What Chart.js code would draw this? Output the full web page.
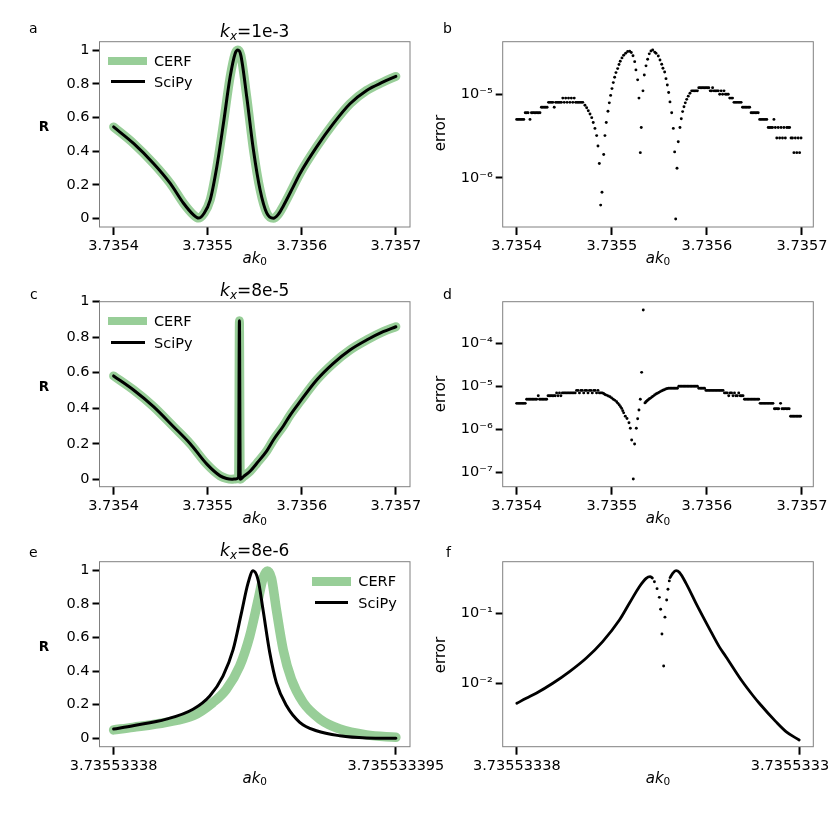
<!DOCTYPE html>
<html><head><meta charset="utf-8">
<script src="https://cdn.jsdelivr.net/npm/chart.js@4.4.1/dist/chart.umd.min.js"></script>
<style>
html,body{margin:0;padding:0;background:#fff;overflow:hidden;}
#wrap{position:relative;width:830px;height:830px;overflow:hidden;background:#fff;}
#charts canvas{position:absolute;}
.t{position:absolute;font-family:'DejaVu Sans',sans-serif;color:#000;white-space:nowrap;line-height:1;}
.sub{font-size:0.7em;position:relative;top:0.25em;}
.ttl{font-size:17px;transform:translateX(-50%);}
.xl{font-size:15px;transform:translateX(-50%);}
.rl{font-size:13.5px;font-weight:bold;transform:translate(-50%,-50%);}
.el{font-size:15px;transform:translate(-50%,-50%) rotate(-90deg);}
.lt{font-size:14px;}
.lg{font-size:14.5px;}
.sw{position:absolute;}
</style>
</head><body>
<div id="wrap">
<div id="charts"></div>
<div class="t lt" style="left:29px;top:21.2px">a</div>
<div class="t lt" style="left:443px;top:21.2px">b</div>
<div class="t lt" style="left:30px;top:286.7px">c</div>
<div class="t lt" style="left:443px;top:287.2px">d</div>
<div class="t lt" style="left:29px;top:545.2px">e</div>
<div class="t lt" style="left:446px;top:545.2px">f</div>

<div class="t ttl" style="left:254.75px;top:22.9px"><i>k</i><span class="sub"><i>x</i></span>=1e-3</div>
<div class="t ttl" style="left:254.75px;top:281.6px"><i>k</i><span class="sub"><i>x</i></span>=8e-5</div>
<div class="t ttl" style="left:254.75px;top:542.3px"><i>k</i><span class="sub"><i>x</i></span>=8e-6</div>

<div class="t xl" style="left:254.75px;top:250.8px"><i>ak</i><span class="sub">0</span></div>
<div class="t xl" style="left:658px;top:250.8px"><i>ak</i><span class="sub">0</span></div>
<div class="t xl" style="left:254.75px;top:510.5px"><i>ak</i><span class="sub">0</span></div>
<div class="t xl" style="left:658px;top:510.5px"><i>ak</i><span class="sub">0</span></div>
<div class="t xl" style="left:254.75px;top:770.5px"><i>ak</i><span class="sub">0</span></div>
<div class="t xl" style="left:658px;top:770.5px"><i>ak</i><span class="sub">0</span></div>

<div class="t rl" style="left:44px;top:127px">R</div>
<div class="t rl" style="left:44px;top:387.2px">R</div>
<div class="t rl" style="left:44px;top:647px">R</div>
<div class="t el" style="left:440px;top:133px">error</div>
<div class="t el" style="left:440px;top:394px">error</div>
<div class="t el" style="left:440px;top:655px">error</div>

<div class="sw" style="left:108.3px;top:56.5px;width:38.4px;height:8.6px;background:rgb(152,206,152)"></div>
<div class="t lg" style="left:154px;top:53.7px">CERF</div>
<div class="sw" style="left:110.5px;top:79.9px;width:34px;height:3.2px;background:#000"></div>
<div class="t lg" style="left:154px;top:75px">SciPy</div>

<div class="sw" style="left:108.3px;top:316.5px;width:38.4px;height:8.6px;background:rgb(152,206,152)"></div>
<div class="t lg" style="left:154px;top:314.4px">CERF</div>
<div class="sw" style="left:110.5px;top:341.1px;width:34px;height:3.2px;background:#000"></div>
<div class="t lg" style="left:154px;top:336px">SciPy</div>

<div class="sw" style="left:311.7px;top:577px;width:39px;height:8.6px;background:rgb(152,206,152)"></div>
<div class="t lg" style="left:358.3px;top:574.4px">CERF</div>
<div class="sw" style="left:315px;top:601.1px;width:33.3px;height:3.2px;background:#000"></div>
<div class="t lg" style="left:358.3px;top:596px">SciPy</div>
</div>
<script>
// ---------------- data ----------------
// panel a (k_x = 1e-3)
const aAk0 = [3.7354, 3.7354212, 3.7354424, 3.7354602, 3.7354743, 3.7354849, 3.7354902, 3.735496, 3.7355026, 3.7355097, 3.7355167, 3.7355238, 3.7355291, 3.735532, 3.7355352, 3.7355415, 3.7355486, 3.7355557, 3.7355628, 3.7355698, 3.735575, 3.7355804, 3.735591, 3.7355981, 3.7356158, 3.7356335, 3.7356512, 3.7356689, 3.7356866, 3.7357];
const aCERF = [0.544, 0.446, 0.327, 0.209, 0.091, 0.022, 0.003, 0.03, 0.11, 0.308, 0.564, 0.84, 0.979, 1.0, 0.969, 0.722, 0.407, 0.17, 0.032, 0.002, 0.025, 0.075, 0.19, 0.268, 0.426, 0.564, 0.682, 0.761, 0.811, 0.844];
const aSciPy = [0.544, 0.446, 0.327, 0.209, 0.091, 0.022, 0.003, 0.03, 0.11, 0.308, 0.564, 0.84, 0.979, 1.0, 0.969, 0.722, 0.407, 0.17, 0.032, 0.002, 0.025, 0.075, 0.19, 0.268, 0.426, 0.564, 0.682, 0.761, 0.811, 0.844];

// panel c (k_x = 8e-5)
const cAk0 = [3.7354, 3.7354212, 3.7354424, 3.7354637, 3.7354814, 3.7354991, 3.7355132, 3.73552, 3.7355256, 3.73553, 3.7355328, 3.7355337, 3.7355346, 3.735538, 3.735545, 3.7355522, 3.7355628, 3.7355698, 3.7355804, 3.7355875, 3.7355981, 3.7356158, 3.7356335, 3.7356512, 3.7356689, 3.7356865, 3.7357];
const cCERF = [0.582, 0.503, 0.409, 0.296, 0.2, 0.085, 0.019, 0.004, 0.0, 0.002, 0.012, 0.893, 0.0, 0.015, 0.045, 0.09, 0.16, 0.221, 0.30, 0.36, 0.437, 0.559, 0.653, 0.728, 0.784, 0.831, 0.859];
const cSciPy = [0.582, 0.503, 0.409, 0.296, 0.2, 0.085, 0.019, 0.004, 0.0, 0.002, 0.012, 0.893, 0.0, 0.015, 0.045, 0.09, 0.16, 0.221, 0.30, 0.36, 0.437, 0.559, 0.653, 0.728, 0.784, 0.831, 0.859];

// panel e (k_x = 8e-6)
const eAk0SciPy = [3.73553338, 3.73553338103, 3.7355333828, 3.73553338422, 3.73553338511, 3.73553338581, 3.73553338635, 3.73553338679, 3.73553338714, 3.73553338741, 3.73553338768, 3.73553338794, 3.7355333883, 3.73553338865, 3.73553338919, 3.73553338989, 3.73553339078, 3.73553339202, 3.73553339344, 3.735533395];
const eSciPy = [0.055, 0.075, 0.114, 0.173, 0.252, 0.37, 0.527, 0.744, 0.921, 0.996, 0.941, 0.764, 0.508, 0.331, 0.193, 0.095, 0.045, 0.015, 0.002, 0.0];
const eAk0CERF = [3.73553338, 3.73553338103, 3.7355333828, 3.73553338422, 3.73553338528, 3.73553338599, 3.7355333867, 3.73553338723, 3.73553338768, 3.73553338794, 3.73553338817, 3.73553338839, 3.73553338865, 3.73553338901, 3.73553338945, 3.73553339007, 3.73553339096, 3.73553339202, 3.73553339344, 3.735533395];
const eCERF = [0.05, 0.065, 0.095, 0.134, 0.213, 0.291, 0.429, 0.606, 0.823, 0.951, 0.995, 0.951, 0.764, 0.527, 0.35, 0.213, 0.114, 0.055, 0.02, 0.006];

// panel b (error, k_x = 1e-3)
const bAk0 = [3.7354, 3.7354015, 3.735403, 3.7354045, 3.735406, 3.7354075, 3.735409, 3.7354105, 3.735412, 3.735414, 3.7354155, 3.735417, 3.7354185, 3.73542, 3.7354215, 3.735423, 3.7354245, 3.735426, 3.7354275, 3.735429, 3.7354305, 3.735432, 3.7354335, 3.735435, 3.7354365, 3.735438, 3.7354395, 3.735441, 3.7354425, 3.735444, 3.7354455, 3.735447, 3.7354485, 3.73545, 3.7354515, 3.735453, 3.7354545, 3.735456, 3.7354575, 3.735459, 3.7354605, 3.735462, 3.7354635, 3.735465, 3.7354665, 3.735468, 3.7354695,
  3.7354718, 3.7354736, 3.7354753, 3.7354771, 3.7354789, 3.7354805, 3.7354823, 3.7354841, 3.7354855, 3.7354869, 3.7354883, 3.7354897, 3.7354915, 3.7354928, 3.7354942, 3.735496, 3.7354974, 3.7354988, 3.7355002, 3.7355016, 3.735503, 3.7355044, 3.7355062, 3.7355076, 3.7355089, 3.7355107, 3.7355125, 3.7355146, 3.7355167, 3.7355188, 3.7355205, 3.7355223, 3.7355241, 3.7355254, 3.7355272, 3.7355286, 3.73553, 3.735531, 3.7355328, 3.7355342, 3.735536, 3.7355377, 3.7355394, 3.7355412, 3.735543, 3.7355451, 3.7355465, 3.7355489, 3.7355507, 3.7355525, 3.7355538, 3.7355556, 3.735557, 3.7355584, 3.7355598, 3.7355612, 3.735563, 3.7355647, 3.7355661, 3.7355672, 3.7355686, 3.7355699, 3.7355717, 3.7355731, 3.7355745, 3.7355759, 3.7355773, 3.7355788, 3.7355804, 3.7355822,
  3.735584, 3.7355855, 3.735587, 3.7355885, 3.73559, 3.7355915, 3.735593, 3.7355945, 3.735596, 3.7355975, 3.735599, 3.7356005, 3.735602, 3.7356035, 3.735605, 3.735606, 3.7356075, 3.735609, 3.7356105, 3.735612, 3.7356135, 3.735615, 3.7356165, 3.735618, 3.7356195, 3.735621, 3.7356225, 3.735624, 3.7356255, 3.735627, 3.7356285, 3.73563, 3.7356315, 3.735633, 3.7356345, 3.735636, 3.7356375, 3.735639, 3.7356405, 3.735642, 3.7356435, 3.735645, 3.7356465, 3.735648, 3.7356495, 3.735651, 3.7356525, 3.735654, 3.7356555, 3.735657, 3.7356585, 3.73566, 3.7356615, 3.735663, 3.7356645, 3.735666, 3.7356675, 3.735669, 3.7356705, 3.735672, 3.7356735, 3.735675, 3.7356765, 3.735678, 3.7356795, 3.735681, 3.7356825, 3.735684, 3.7356855, 3.735687, 3.7356885, 3.73569, 3.7356915, 3.735693, 3.7356945, 3.735696, 3.7356975, 3.735699];
const bError = [5e-6, 5e-6, 5e-6, 5e-6, 5e-6, 5e-6, 6e-6, 6e-6, 6e-6, 5e-6, 6e-6, 6e-6, 6e-6, 6e-6, 6e-6, 6e-6, 6e-6, 7e-6, 7e-6, 7e-6, 7e-6, 7e-6, 8e-6, 8e-6, 8e-6, 8e-6, 7e-6, 8e-6, 8e-6, 8e-6, 8e-6, 8e-6, 9e-6, 8e-6, 9e-6, 8e-6, 9e-6, 8e-6, 9e-6, 8e-6, 9e-6, 8e-6, 8e-6, 8e-6, 8e-6, 8e-6, 8e-6,
  7.4e-6, 6.9e-6, 6.35e-6, 5.8e-6, 5.25e-6, 4.6e-6, 3.9e-6, 3.2e-6, 2.4e-6, 1.48e-6, 4.7e-7, 6.7e-7, 1.9e-6, 3.2e-6, 4.6e-6, 6.25e-6, 7.9e-6, 9.7e-6, 1.17e-5, 1.38e-5, 1.6e-5, 1.82e-5, 2.03e-5, 2.27e-5, 2.49e-5, 2.73e-5, 2.94e-5, 3.1e-5, 3.25e-5, 3.28e-5, 3.17e-5, 2.9e-5, 2.46e-5, 1.96e-5, 1.49e-5, 9e-6, 2e-6, 4e-6, 1.1e-5, 1.7e-5, 2.19e-5, 2.63e-5, 3.05e-5, 3.3e-5, 3.4e-5, 3.2e-5, 3.1e-5, 2.88e-5, 2.58e-5, 2.29e-5, 2.05e-5, 1.85e-5, 1.54e-5, 1.29e-5, 1.05e-5, 8.1e-6, 6e-6, 3.9e-6, 2.04e-6, 3.2e-7, 1.3e-6, 2.7e-6, 4e-6, 5.1e-6, 6.2e-6, 7.1e-6, 7.9e-6, 8.7e-6, 9.5e-6, 1.03e-5,
  1.1e-5, 1.1e-5, 1.1e-5, 1.1e-5, 1.1e-5, 1.2e-5, 1.2e-5, 1.2e-5, 1.2e-5, 1.2e-5, 1.2e-5, 1.2e-5, 1.2e-5, 1.1e-5, 1.1e-5, 1.2e-5, 1.1e-5, 1.1e-5, 1.1e-5, 1.1e-5, 1e-5, 1.1e-5, 1e-5, 1.1e-5, 1e-5, 1e-5, 1e-5, 9e-6, 9e-6, 9e-6, 8e-6, 8e-6, 8e-6, 8e-6, 8e-6, 8e-6, 7e-6, 7e-6, 7e-6, 7e-6, 7e-6, 7e-6, 6e-6, 6e-6, 6e-6, 6e-6, 6e-6, 6e-6, 5e-6, 5e-6, 5e-6, 5e-6, 5e-6, 5e-6, 4e-6, 4e-6, 4e-6, 4e-6, 5e-6, 4e-6, 3e-6, 4e-6, 3e-6, 4e-6, 3e-6, 4e-6, 3e-6, 4e-6, 4e-6, 4e-6, 3e-6, 3e-6, 2e-6, 3e-6, 2e-6, 3e-6, 2e-6, 3e-6];

// panel d (error, k_x = 8e-5)
const dAk0 = [3.7354, 3.7354015, 3.735403, 3.7354045, 3.735406, 3.7354075, 3.735409, 3.7354105, 3.735412, 3.7354135, 3.735415, 3.7354165, 3.735418, 3.7354195, 3.735421, 3.7354227, 3.735424, 3.7354255, 3.735427, 3.7354285, 3.73543, 3.7354315, 3.735433, 3.7354345, 3.735436, 3.7354375, 3.735439, 3.7354405, 3.735442, 3.7354435, 3.735445, 3.7354465, 3.735448, 3.7354495, 3.735451, 3.7354525, 3.735454, 3.7354555, 3.735457, 3.7354585, 3.73546, 3.7354615, 3.735463, 3.7354645, 3.735466, 3.7354675, 3.735469, 3.7354705, 3.735472, 3.7354735, 3.735475, 3.7354765, 3.735478, 3.7354795, 3.735481, 3.7354825, 3.735484, 3.7354855, 3.735487, 3.7354885, 3.73549,
  3.7354914, 3.7354928, 3.7354945, 3.7354963, 3.7354981, 3.7354998, 3.7355016, 3.7355033, 3.7355051, 3.7355065, 3.7355079, 3.7355092, 3.7355104, 3.7355115, 3.7355125, 3.7355142, 3.735516, 3.7355181, 3.7355195, 3.7355209, 3.7355226, 3.735524, 3.7355258, 3.7355272, 3.7355286, 3.73553, 3.7355314, 3.7355331, 3.7355349, 3.7355358, 3.7355366, 3.7355375, 3.7355384, 3.7355396, 3.7355408, 3.7355422, 3.7355436, 3.735545, 3.7355465, 3.735548, 3.7355496, 3.735551, 3.7355524, 3.7355538, 3.7355552, 3.7355568, 3.7355584,
  3.73556, 3.7355615, 3.735563, 3.7355645, 3.735566, 3.7355675, 3.735569, 3.7355705, 3.735572, 3.7355735, 3.735575, 3.7355765, 3.735578, 3.7355795, 3.735581, 3.7355825, 3.735584, 3.7355855, 3.735587, 3.7355885, 3.73559, 3.7355915, 3.735593, 3.7355945, 3.735596, 3.7355975, 3.735599, 3.7356005, 3.735602, 3.7356035, 3.735605, 3.7356065, 3.735608, 3.7356095, 3.735611, 3.7356125, 3.735614, 3.7356155, 3.735617, 3.7356185, 3.73562, 3.7356215, 3.735623, 3.7356245, 3.735626, 3.7356275, 3.735629, 3.7356305, 3.735632, 3.7356335, 3.735635, 3.7356365, 3.735638, 3.7356395, 3.735641, 3.7356425, 3.735644, 3.7356455, 3.735647, 3.7356485, 3.73565, 3.7356515, 3.735653, 3.7356545, 3.735656, 3.7356575, 3.735659, 3.7356605, 3.735662, 3.7356635, 3.735665, 3.7356665, 3.735668, 3.7356695, 3.735671, 3.7356725, 3.735674, 3.7356755, 3.7356775, 3.735679, 3.7356805, 3.735682, 3.7356835, 3.735685, 3.7356865, 3.735688, 3.7356895, 3.735691, 3.7356925, 3.735694, 3.7356955, 3.735697, 3.7356985];
const dError = [4e-6, 4e-6, 4e-6, 4e-6, 4e-6, 4e-6, 4e-6, 5e-6, 5e-6, 5e-6, 5e-6, 5e-6, 5e-6, 5e-6, 5e-6, 6e-6, 5e-6, 5e-6, 5e-6, 5e-6, 5e-6, 5e-6, 6e-6, 6e-6, 6e-6, 6e-6, 6e-6, 6e-6, 7e-6, 6e-6, 7e-6, 6e-6, 7e-6, 7e-6, 7e-6, 7e-6, 7e-6, 7e-6, 7e-6, 7e-6, 7e-6, 7e-6, 8e-6, 8e-6, 7e-6, 8e-6, 8e-6, 7e-6, 8e-6, 8e-6, 7e-6, 8e-6, 8e-6, 7e-6, 8e-6, 8e-6, 7e-6, 8e-6, 7e-6, 7e-6, 7e-6,
  6.8e-6, 6.45e-6, 6.2e-6, 5.95e-6, 5.7e-6, 5.35e-6, 5e-6, 4.7e-6, 4.36e-6, 4e-6, 3.65e-6, 3.35e-6, 3.05e-6, 2.7e-6, 2.4e-6, 2e-6, 1.77e-6, 1.41e-6, 1.05e-6, 5.6e-7, 6.9e-8, 4.5e-7, 1.05e-6, 1.75e-6, 2.79e-6, 5e-6, 2.11e-5, 5.97e-4, 4.1e-6, 4.3e-6, 4.5e-6, 4.7e-6, 4.85e-6, 5.1e-6, 5.3e-6, 5.6e-6, 5.9e-6, 6.25e-6, 6.6e-6, 6.9e-6, 7.2e-6, 7.5e-6, 7.8e-6, 8.05e-6, 8.3e-6, 8.6e-6, 8.9e-6,
  9e-6, 9e-6, 9e-6, 9e-6, 9e-6, 9e-6, 9e-6, 1e-5, 1e-5, 1e-5, 1e-5, 1e-5, 1e-5, 1e-5, 1e-5, 1e-5, 1e-5, 1e-5, 1e-5, 1e-5, 1e-5, 9e-6, 9e-6, 9e-6, 9e-6, 9e-6, 8e-6, 8e-6, 8e-6, 8e-6, 8e-6, 8e-6, 8e-6, 8e-6, 8e-6, 8e-6, 8e-6, 8e-6, 8e-6, 7e-6, 7e-6, 7e-6, 6e-6, 7e-6, 7e-6, 6e-6, 7e-6, 6e-6, 6e-6, 7e-6, 6e-6, 6e-6, 6e-6, 5e-6, 5e-6, 5e-6, 5e-6, 5e-6, 5e-6, 5e-6, 5e-6, 5e-6, 5e-6, 5e-6, 4e-6, 4e-6, 4e-6, 4e-6, 4e-6, 4e-6, 4e-6, 4e-6, 4e-6, 4e-6, 3e-6, 3e-6, 3e-6, 3e-6, 4e-6, 3e-6, 3e-6, 3e-6, 3e-6, 3e-6, 3e-6, 2e-6, 2e-6, 2e-6, 2e-6, 2e-6, 2e-6, 2e-6, 2e-6];

// panel f (error, k_x = 8e-6)
const fAk0Left = [3.73553338, 3.7355333805, 3.73553338103, 3.73553338191, 3.7355333828, 3.73553338368, 3.73553338456, 3.73553338545, 3.73553338598, 3.73553338651, 3.73553338687, 3.73553338708, 3.7355333872];
const fErrorLeft = [5.18e-3, 6.1e-3, 7.2e-3, 1.0e-2, 1.47e-2, 2.28e-2, 3.94e-2, 8.0e-2, 1.39e-1, 2.4e-1, 3.16e-1, 3.34e-1, 3.2e-1];
const fAk0Dip = [3.73553338731, 3.73553338745, 3.73553338757, 3.73553338764, 3.73553338771, 3.7355333878, 3.73553338787, 3.73553338796, 3.73553338803, 3.7355333881];
const fErrorDip = [0.282, 0.225, 0.169, 0.114, 0.0506, 0.0177, 0.088, 0.155, 0.22, 0.29];
const fAk0Right = [3.73553338814, 3.73553338828, 3.73553338846, 3.73553338863, 3.73553338899, 3.73553338952, 3.73553339022, 3.73553339075, 3.73553339111, 3.73553339199, 3.73553339252, 3.73553339288, 3.73553339376, 3.7355333943, 3.735533395];
const fErrorRight = [0.323, 0.373, 0.406, 0.385, 0.268, 0.139, 0.061, 0.0334, 0.024, 0.0105, 6.8e-3, 5.18e-3, 2.83e-3, 2.04e-3, 1.55e-3];

// tick values / labels
const xTicksWide = [3.7354, 3.7355, 3.7356, 3.7357];
const xLabelsWide = ['3.7354', '3.7355', '3.7356', '3.7357'];
const xTicksNarrow = [3.73553338, 3.735533395];
const xLabelsNarrow = ['3.73553338', '3.735533395'];
const yTicksR = [0, 0.2, 0.4, 0.6, 0.8, 1];
const yLabelsR = ['0', '0.2', '0.4', '0.6', '0.8', '1'];
const yTicksB = [1e-6, 1e-5];
const yLabelsB = ['10\u207B\u2076', '10\u207B\u2075'];
const yTicksD = [1e-7, 1e-6, 1e-5, 1e-4];
const yLabelsD = ['10\u207B\u2077', '10\u207B\u2076', '10\u207B\u2075', '10\u207B\u2074'];
const yTicksF = [1e-2, 1e-1];
const yLabelsF = ['10\u207B\u00B2', '10\u207B\u00B9'];

// ---------------- drawing ----------------
const FONT = "'DejaVu Sans', sans-serif";
const TICK_FONT = {family: FONT, size: 14.5};
const GREEN = 'rgb(152,206,152)';
const zip = (xs, ys) => xs.map((x, i) => ({x: x, y: ys[i]}));

const frame = {id: 'frame', afterDraw(ch) {
  const a = ch.chartArea, c = ch.ctx;
  c.save(); c.strokeStyle = '#808080'; c.lineWidth = 1;
  c.strokeRect(a.left, a.top, a.right - a.left, a.bottom - a.top);
  c.restore();
}};

function xAxis(min, max, vals, labels) {
  return {type: 'linear', min: min, max: max, bounds: 'data',
    afterBuildTicks: s => { s.ticks = vals.map(v => ({value: v})); },
    afterFit: s => { s.height = 30; s.paddingLeft = 0; s.paddingRight = 0; },
    ticks: {autoSkip: false, maxRotation: 0, minRotation: 0, padding: 3, color: '#000', font: TICK_FONT,
      callback: (v, i) => labels[i]},
    grid: {drawOnChartArea: false, drawTicks: true, tickLength: 8, tickWidth: 2, tickColor: '#000'},
    border: {display: false}};
}
function yAxis(type, min, max, vals, labels) {
  return {type: type, min: min, max: max, bounds: 'data',
    afterBuildTicks: s => { s.ticks = vals.map(v => ({value: v})); },
    afterFit: s => { s.width = 60; s.paddingTop = 0; s.paddingBottom = 0; },
    ticks: {autoSkip: false, padding: 3, color: '#000', font: TICK_FONT, callback: (v, i) => labels[i]},
    grid: {drawOnChartArea: false, drawTicks: true, tickLength: 7, tickWidth: 2, tickColor: '#000'},
    border: {display: false}};
}
const lineDS = (xs, ys, color, width) => ({data: zip(xs, ys), showLine: true, borderColor: color, backgroundColor: color,
  borderWidth: width, pointRadius: 0, pointHoverRadius: 0, cubicInterpolationMode: 'monotone',
  borderCapStyle: 'round', borderJoinStyle: 'round', fill: false});
const dotDS = (xs, ys) => ({data: zip(xs, ys), showLine: false, pointRadius: 1.45, pointHoverRadius: 1.45,
  pointBorderWidth: 0, backgroundColor: '#000', borderColor: '#000'});

function panel(x, y, w, h, pad, datasets, xs, ys) {
  const cv = document.createElement('canvas');
  cv.width = w; cv.height = h;
  cv.style.left = x + 'px'; cv.style.top = y + 'px';
  cv.style.width = w + 'px'; cv.style.height = h + 'px';
  document.getElementById('charts').appendChild(cv);
  return new Chart(cv, {type: 'scatter', data: {datasets: datasets},
    options: {responsive: false, animation: false, events: [], layout: {padding: pad},
      plugins: {legend: {display: false}, tooltip: {enabled: false}},
      scales: {x: xs, y: ys}},
    plugins: [frame]});
}

const X_WIDE_L = [3.735385, 3.735715];
const X_WIDE_R = [3.7353853, 3.7357119];
const X_NARROW = [3.73553337925, 3.73553339575];
const padL1 = {left: 39.5, top: 41.7, right: 50, bottom: 13};
const padL2 = {left: 39.5, top: 31.7, right: 50, bottom: 23.3};
const padR1 = {left: 22.7, top: 41.7, right: 36.7, bottom: 13};
const padR2 = {left: 22.7, top: 31.7, right: 36.7, bottom: 23.3};

// a
panel(0, 0, 460, 270, padL1,
  [lineDS(aAk0, aSciPy, '#000', 3), lineDS(aAk0, aCERF, GREEN, 9)],
  xAxis(X_WIDE_L[0], X_WIDE_L[1], xTicksWide, xLabelsWide),
  yAxis('linear', -0.05, 1.05, yTicksR, yLabelsR));
// c
panel(0, 270, 460, 270, padL2,
  [lineDS(cAk0, cSciPy, '#000', 3), lineDS(cAk0, cCERF, GREEN, 9)],
  xAxis(X_WIDE_L[0], X_WIDE_L[1], xTicksWide, xLabelsWide),
  yAxis('linear', -0.042, 1.0, yTicksR, yLabelsR));
// e
panel(0, 530, 460, 270, padL2,
  [lineDS(eAk0SciPy, eSciPy, '#000', 3), lineDS(eAk0CERF, eCERF, GREEN, 9.5)],
  xAxis(X_NARROW[0], X_NARROW[1], xTicksNarrow, xLabelsNarrow),
  yAxis('linear', -0.05, 1.05, yTicksR, yLabelsR));
// b
panel(420, 0, 430, 270, padR1,
  [dotDS(bAk0, bError)],
  xAxis(X_WIDE_R[0], X_WIDE_R[1], xTicksWide, xLabelsWide),
  yAxis('logarithmic', Math.pow(10, -6.59), Math.pow(10, -4.37), yTicksB, yLabelsB));
// d
panel(420, 270, 430, 270, padR2,
  [dotDS(dAk0, dError)],
  xAxis(X_WIDE_R[0], X_WIDE_R[1], xTicksWide, xLabelsWide),
  yAxis('logarithmic', Math.pow(10, -7.34), Math.pow(10, -3.03), yTicksD, yLabelsD));
// f
panel(420, 530, 430, 270, padR2,
  [lineDS(fAk0Left, fErrorLeft, '#000', 2.8), dotDS(fAk0Dip, fErrorDip), lineDS(fAk0Right, fErrorRight, '#000', 2.8)],
  xAxis(X_NARROW[0], X_NARROW[1], xTicksNarrow, xLabelsNarrow),
  yAxis('logarithmic', Math.pow(10, -2.906), Math.pow(10, -0.263), yTicksF, yLabelsF));
</script>
</body></html>
